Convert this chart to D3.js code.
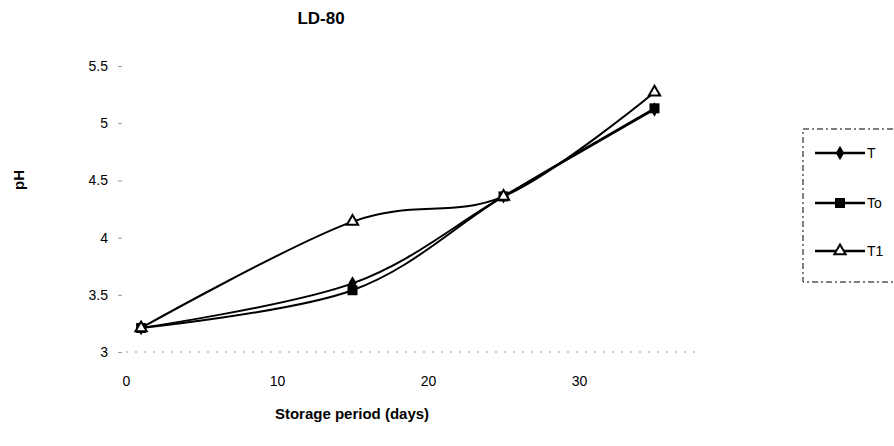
<!DOCTYPE html>
<html><head><meta charset="utf-8">
<script src="https://cdn.jsdelivr.net/npm/d3@7"></script>
<style>body{margin:0;background:#fff}svg{display:block}text{font-family:Arial,"Liberation Sans",sans-serif}</style>
</head><body>
<script>
const days = [1, 15, 25, 35];
const seriesNames = ["T", "To", "T1"];
const valuesT  = [3.21, 3.60, 4.36, 5.12];
const valuesTo = [3.21, 3.54, 4.36, 5.13];
const valuesT1 = [3.21, 4.14, 4.36, 5.27];
const xTicks = [0, 10, 20, 30];
const yTicks = [3, 3.5, 4, 4.5, 5, 5.5];
const title = "LD-80";
const xTitle = "Storage period (days)";
const yTitle = "pH";

const W = 894, H = 446;
const svg = d3.select("body").append("svg").attr("width", W).attr("height", H);
const x = d3.scaleLinear().domain([0, 40]).range([126, 730]);
const y = d3.scaleLinear().domain([3, 5.5]).range([352, 66]);

// x baseline (faint dotted)
svg.append("line").attr("x1", x(0)).attr("x2", 700).attr("y1", y(3)).attr("y2", y(3))
  .attr("stroke", "#999").attr("stroke-width", 1).attr("stroke-dasharray", "2,7");

// y ticks
const yAxis = d3.axisLeft(y).tickValues(yTicks).tickSize(4).tickPadding(10)
  .tickFormat(d => String(d));
const gy = svg.append("g").attr("transform", `translate(${x(0)-4},0)`).call(yAxis);
gy.select(".domain").remove();
gy.selectAll(".tick line").attr("stroke", "#999");
gy.selectAll("text").attr("font-size", 14).attr("fill", "#000");

const xAxis = d3.axisBottom(x).tickValues(xTicks).tickSize(0).tickPadding(24);
const gx = svg.append("g").attr("transform", `translate(0,${y(3)})`).call(xAxis);
gx.select(".domain").remove();
gx.selectAll("text").attr("font-size", 14).attr("fill", "#000");

// lines
const data = [valuesT, valuesTo, valuesT1];
const line = d3.line().x((d, i) => x(days[i])).y(d => y(d)).curve(d3.curveCardinal.tension(0));
data.forEach(vals => {
  svg.append("path").attr("d", line(vals)).attr("fill", "none")
    .attr("stroke", "#000").attr("stroke-width", 2);
});

function marker(g, k, cx, cy) {
  if (k === 0) {
    g.append("path").attr("d", d3.symbol(d3.symbolDiamond, 60)())
      .attr("transform", `translate(${cx},${cy})`).attr("fill", "#000");
  } else if (k === 1) {
    g.append("rect").attr("x", cx - 5).attr("y", cy - 5).attr("width", 10).attr("height", 10).attr("fill", "#000");
  } else {
    g.append("path").attr("d", d3.symbol(d3.symbolTriangle, 55)())
      .attr("transform", `translate(${cx},${cy})`).attr("fill", "#fff").attr("stroke", "#000").attr("stroke-width", 2);
  }
}
const mg = svg.append("g");
data.forEach((vals, k) => vals.forEach((v, i) => marker(mg, k, x(days[i]), y(v))));

// titles
svg.append("text").attr("x", 321).attr("y", 24).attr("text-anchor", "middle")
  .attr("font-size", 17).attr("font-weight", "bold").text(title);
svg.append("text").attr("x", 352).attr("y", 419).attr("text-anchor", "middle")
  .attr("font-size", 15).attr("font-weight", "bold").text(xTitle);
svg.append("text").attr("transform", "translate(24,180) rotate(-90)").attr("text-anchor", "middle")
  .attr("font-size", 15).attr("font-weight", "bold").text(yTitle);

// legend
const lg = svg.append("g");
lg.append("rect").attr("x", 803).attr("y", 129).attr("width", 120).attr("height", 153)
  .attr("fill", "none").attr("stroke", "#000").attr("stroke-width", 1).attr("stroke-dasharray", "6,3,2,3");
const ly = [153, 203, 251];
seriesNames.forEach((n, k) => {
  lg.append("line").attr("x1", 815).attr("x2", 865).attr("y1", ly[k]).attr("y2", ly[k])
    .attr("stroke", "#000").attr("stroke-width", 2.5);
  marker(lg, k, 840, ly[k]);
  lg.append("text").attr("x", 867).attr("y", ly[k] + 5).attr("font-size", 14).text(n);
});
</script>
</body></html>
